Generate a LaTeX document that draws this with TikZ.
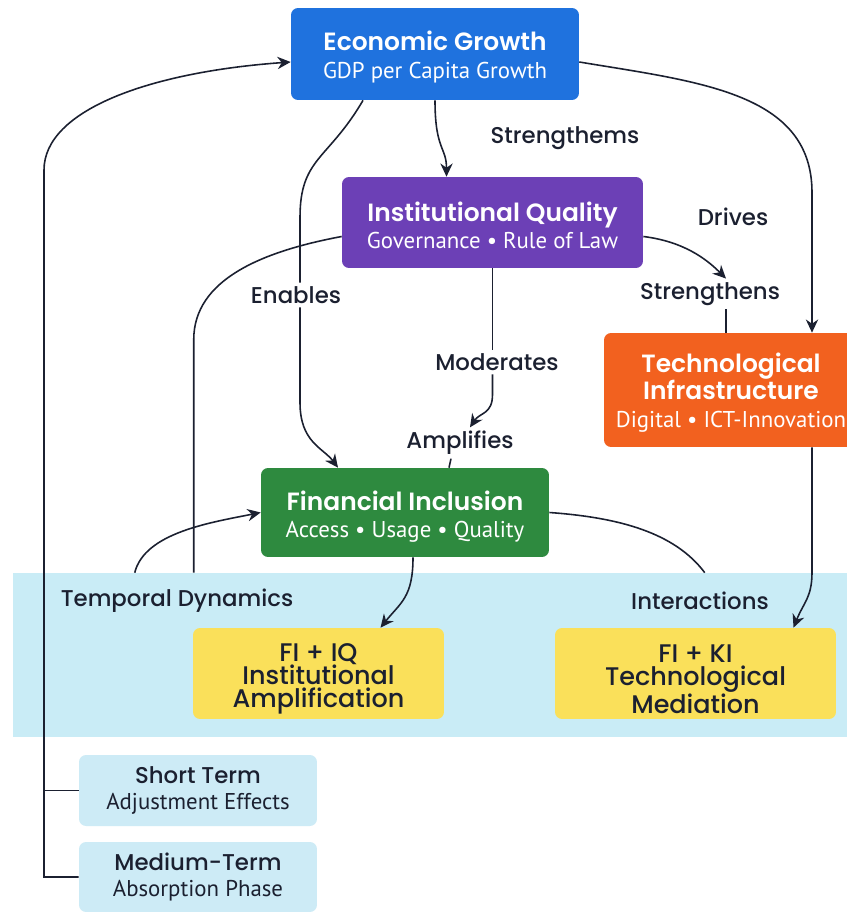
\documentclass[tikz,border=0pt]{standalone}
\usepackage{fontspec}
\setmainfont{Poppins Medium}
\newfontfamily\headf{Poppins SemiBold}
\newfontfamily\subf{PT Sans}
\usetikzlibrary{calc, positioning, arrows.meta}
\definecolor{ink}{HTML}{1B2030}
\definecolor{egblue}{HTML}{1F72DE}
\definecolor{iqpurple}{HTML}{6C40B6}
\definecolor{tiorange}{HTML}{F2611F}
\definecolor{figreen}{HTML}{2E8A3F}
\definecolor{ylw}{HTML}{FAE05A}
\definecolor{bandblue}{HTML}{C9ECF6}
\definecolor{tblue}{HTML}{CDEBF6}
\tikzset{
	box/.style={rounded corners=4pt, align=center, inner sep=0pt, text=white, font=\fontsize{13}{15.5}\selectfont},
	ybox/.style={rounded corners=4pt, align=center, inner sep=0pt, fill=ylw, text=ink, font=\fontsize{14.5}{13}\selectfont},
	tbox/.style={rounded corners=4pt, align=center, inner sep=0pt, fill=tblue, text=ink, font=\fontsize{13}{14.5}\selectfont},
	lbl/.style={text=ink, font=\fontsize{13}{13}\selectfont, inner sep=2pt},
	ln/.style={draw=ink, line width=0.9pt},
	arr/.style={draw=ink, line width=0.9pt, -{Stealth[length=7.5pt,width=7pt]}},
}
\newcommand{\ttl}[1]{{\fontsize{14.2}{15.5}\selectfont\headf #1}}
\newcommand{\up}[1]{\rule{0pt}{#1}}
\begin{document}
\begin{tikzpicture}[x=0.02cm, y=-0.02cm]
	\fill[white] (0,0) rectangle (847,912);
	\useasboundingbox (0,0) rectangle (847,912);
	
	\node[fill=bandblue, minimum width=16.8cm, minimum height=3.28cm, inner sep=0pt] (band) at (433,655) {};
	
	\node[box, fill=egblue, minimum width=5.76cm, minimum height=1.84cm] (eg) at (435,54) {\up{14.5pt}\ttl{Economic Growth}\\{\subf GDP per Capita Growth}};
	\node[box, fill=iqpurple, minimum width=6.02cm, minimum height=1.82cm] (iq) at (492.5,222.5) {\up{14.5pt}\ttl{Institutional Quality}\\{\subf Governance • Rule of Law}};
	\node[box, fill=tiorange, minimum width=5.08cm, minimum height=2.28cm] (ti) at (731,390) {\up{14pt}\ttl{Technological}\\\ttl{Infrastructure}\\{\subf Digital • ICT-Innovation}};
	\node[box, fill=figreen, minimum width=5.76cm, minimum height=1.78cm] (fi) at (405,512.5) {\up{15.5pt}\ttl{Financial Inclusion}\\{\subf Access • Usage • Quality}};
	
	\node[lbl] (td) at (177,601) {Temporal Dynamics};
	\node[lbl] (inter) at (700,601) {Interactions};
	\node[ybox, minimum width=5.02cm, minimum height=1.82cm] (fiiq) at (318.5,673.5) {\up{16.5pt}FI + IQ\\Institutional\\Amplification};
	\node[ybox, minimum width=5.62cm, minimum height=1.82cm] (fiki) at (695.5,673.5) {\up{16.5pt}FI + KI\\Technological\\Mediation};
	
	\node[tbox, minimum width=4.76cm, minimum height=1.42cm] (st) at (198,790.5) {Short Term\\{\subf Adjustment Effects}};
	\node[tbox, minimum width=4.76cm, minimum height=1.4cm] (mt) at (198,877) {Medium-Term\\{\subf Absorption Phase}};
	
	%labels
	\node[lbl] (s1) at (565,138) {Strengthems};
	\node[lbl] (drv) at (733,217) {Drives};
	\node[lbl] (s2) at (710,294) {Strengthens};
	\node[lbl] (ena) at (296,295) {Enables};
	\node[lbl] (mod) at (497,362) {Moderates};
	\node[lbl] (amp) at (460,443) {Amplifies};
	
	\draw[arr] (eg.south) .. controls +(0,50) and +(0,-30) .. ($(iq.north)+(-46,0)$);
	\draw[ln] ($(eg.south)+(-72,0)$) .. controls +(-35,60) and +(0,-60) .. ($(ena.north)+(4,-65)$) -- ($(ena.north)+(4,0)$);
	\draw[arr] ($(ena.south)+(4,0)$) -- ++(0,95) .. controls +(0,40) and +(-15,-20) .. ($(fi.north)+(-67,0)$);
	\draw[arr] ($(eg.east)+(0,8)$) .. controls +(120,20) and +(0,-100) .. ($(ti.north)+(81,-140)$) -- ($(ti.north)+(81,0)$);
	\draw[arr] ($(iq.east)+(0,14)$) .. controls +(40,5) and +(-20,-20) .. ($(s2.north)+(16,0)$);
	\draw[ln] ($(s2.south)+(16,0)$) -- ($(ti.north)+(-5,0)$);
	\draw[ln] (iq.south) -- (iq.south |- mod.north);
	\draw[arr] (iq.south |- mod.south) -- ++(0,20) .. controls +(0,20) and +(10,-15) .. ($(amp.north)+(10,0)$);
	\draw[ln] ($(amp.south)+(-9,0)$) -- ($(fi.north)+(44,0)$);
	\draw[ln] ($(iq.west)+(0,14)$) .. controls +(-80,15) and +(0,-60) .. ($(band.north west)+(181,-233)$) -- ($(band.north west)+(181,0)$);
	\draw[arr] ($(band.north west)+(122,0)$) .. controls +(10,-40) and +(-50,10) .. (fi.west);
	\draw[ln] (fi.east) .. controls +(70,5) and +(-30,-40) .. ($(band.north west)+(692,0)$);
	\draw[arr] ($(fi.south)+(8,0)$) .. controls +(0,40) and +(20,-25) .. ($(fiiq.north)+(62,0)$);
	\draw[arr] ($(ti.south)+(81,0)$) -- ++(0,125) .. controls +(0,25) and +(10,-25) .. ($(fiki.north)+(98,0)$);
	
	%Zeitachse
	\coordinate (rail) at (44,170);
	\draw[ln] (st.west) -- (st.west -| rail);
	\draw[arr] (mt.west) -| (rail) .. controls (44,110) and (150,72) .. ($(eg.west)+(0,8)$);
\end{tikzpicture}
\end{document}
